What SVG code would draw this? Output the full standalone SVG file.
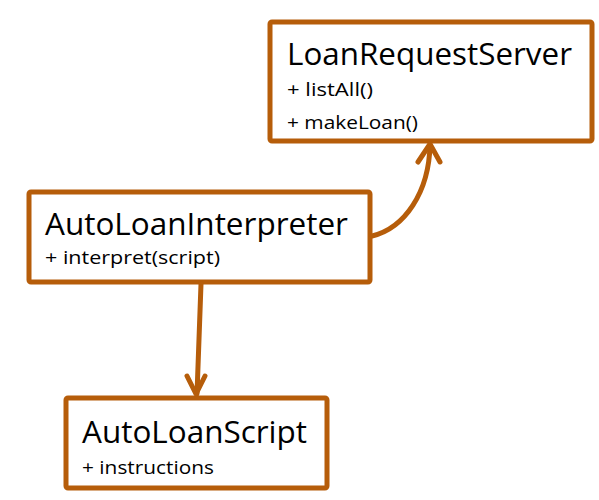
<svg xmlns="http://www.w3.org/2000/svg" width="599" height="500" viewBox="0 0 599 500">
<style>
.box{fill:#fff;stroke:#b65d0a;stroke-width:5;}
.t{font-family:"Open Sans","Liberation Sans",sans-serif;font-size:31px;fill:#000;}
.s{font-family:"Open Sans","Liberation Sans",sans-serif;font-size:19px;fill:#000;}
.c{fill:none;stroke:#b65d0a;stroke-width:5;stroke-linecap:round;stroke-linejoin:round;}
</style>
<rect width="599" height="500" fill="#fff"/>
<g id="LoanRequestServer">
<rect class="box" x="270" y="22" width="322" height="119" rx="2"/>
<text class="t" x="287" y="65" textLength="285" lengthAdjust="spacingAndGlyphs">LoanRequestServer</text>
<text class="s" x="287" y="96" textLength="86" lengthAdjust="spacingAndGlyphs">+ listAll()</text>
<text class="s" x="287" y="129" textLength="131" lengthAdjust="spacingAndGlyphs">+ makeLoan()</text>
</g>
<g id="AutoLoanInterpreter">
<rect class="box" x="29" y="192" width="341" height="90" rx="2"/>
<text class="t" x="45" y="235" textLength="303" lengthAdjust="spacingAndGlyphs">AutoLoanInterpreter</text>
<text class="s" x="45" y="264" textLength="175" lengthAdjust="spacingAndGlyphs">+ interpret(script)</text>
</g>
<g id="AutoLoanScript">
<rect class="box" x="66" y="398" width="261" height="90" rx="2"/>
<text class="t" x="82" y="443" textLength="225" lengthAdjust="spacingAndGlyphs">AutoLoanScript</text>
<text class="s" x="82" y="474" textLength="132" lengthAdjust="spacingAndGlyphs">+ instructions</text>
</g>
<g id="connectors">
<path class="c" d="M372,236 C405,228 429,192 430,145"/>
<path class="c" d="M418,162 L430,144 L440,162"/>
<path class="c" d="M201,284 L197,394"/>
<path class="c" d="M187,376 L196,394 L205,376"/>
</g>
</svg>
